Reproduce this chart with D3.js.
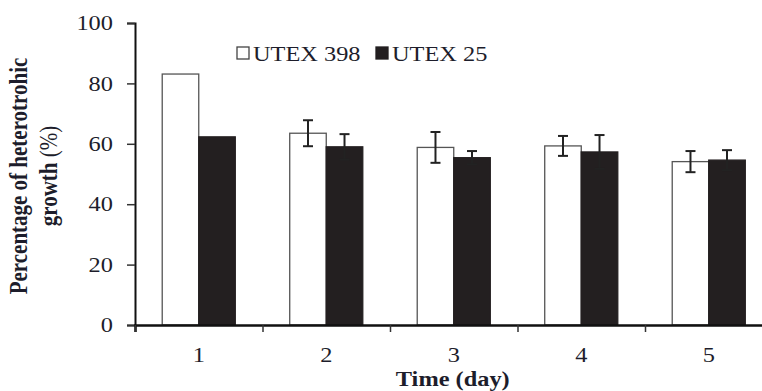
<!DOCTYPE html>
<html>
<head>
<meta charset="utf-8">
<script src="https://cdn.jsdelivr.net/npm/d3@7"></script>
<style>
  body { margin: 0; background: #fff; }
  text { font-family: "Liberation Serif", "Times New Roman", serif; fill: #1d1d2b; }
</style>
</head>
<body>
<div class="canva"></div>
<script>
// data
const days = ['1', '2', '3', '4', '5'];
const series = ['UTEX 398', 'UTEX 25'];
const utex398 = [83.1, 63.5, 58.8, 59.3, 54.1];
const utex398Err = [0, 4.3, 5.1, 3.3, 3.5];
const utex25 = [62.3, 59.0, 55.4, 57.3, 54.6];
const utex25Err = [0, 4.2, 2.2, 5.6, 3.3];
const yTicks = [0, 20, 40, 60, 80, 100];

const width = 762, height = 391;
const stretch = 1.16; // the picture's text is a bit wider than tall
const fontSize = 21;

const svg = d3.select('.canva').append('svg')
    .attr('width', width)
    .attr('height', height);

const plot = {left: 135, right: 772.5, top: 23, bottom: 325};

// scales
const y = d3.scaleLinear().domain([0, 100]).range([plot.bottom, plot.top]);

const x = d3.scaleBand()
    .domain(days)
    .range([plot.left, plot.right])
    .paddingInner(0.427)
    .paddingOuter(0.2135);

const x1 = d3.scaleBand()
    .domain(series)
    .range([0, x.bandwidth()]);

const xEdges = d3.scaleLinear().domain([0, days.length]).range([plot.left, plot.right]);

const rows = days.map((d, i) => ({
    day: d,
    vals: [
        {s: series[0], v: utex398[i], e: utex398Err[i], fill: '#fff'},
        {s: series[1], v: utex25[i], e: utex25Err[i], fill: '#231f20'}
    ]
}));

// bars
const groups = svg.append('g').selectAll('g')
    .data(rows)
    .enter().append('g')
    .attr('transform', d => `translate(${x(d.day)},0)`);

groups.selectAll('rect')
    .data(d => d.vals)
    .enter().append('rect')
    .attr('x', d => x1(d.s))
    .attr('y', d => y(d.v))
    .attr('width', x1.bandwidth())
    .attr('height', d => y(0) - y(d.v))
    .attr('fill', d => d.fill)
    .attr('stroke', d => d.fill === '#fff' ? '#555' : '#231f20')
    .attr('stroke-width', 1.3);

// error bars
const errs = groups.selectAll('g.err')
    .data(d => d.vals.filter(v => v.e > 0))
    .enter().append('g')
    .attr('class', 'err')
    .attr('stroke', '#222')
    .attr('stroke-width', 2);

const cx = d => x1(d.s) + x1.bandwidth() / 2;
errs.append('line')
    .attr('x1', cx).attr('x2', cx)
    .attr('y1', d => y(d.v - d.e)).attr('y2', d => y(d.v + d.e));
errs.append('line')
    .attr('x1', d => cx(d) - 5).attr('x2', d => cx(d) + 5)
    .attr('y1', d => y(d.v + d.e)).attr('y2', d => y(d.v + d.e));
errs.append('line')
    .attr('x1', d => cx(d) - 5).attr('x2', d => cx(d) + 5)
    .attr('y1', d => y(d.v - d.e)).attr('y2', d => y(d.v - d.e));

// y axis
const yAxis = svg.append('g')
    .attr('transform', `translate(${plot.left},0)`)
    .call(d3.axisLeft(y).tickValues(yTicks).tickSize(8).tickPadding(0));
yAxis.select('.domain').attr('stroke', '#111').attr('stroke-width', 2);
yAxis.selectAll('.tick line').attr('stroke', '#333').attr('stroke-width', 1.5);
yAxis.selectAll('.tick text')
    .attr('x', -19)
    .attr('font-size', fontSize)
    .attr('font-family', 'Liberation Serif')
    .attr('fill', '#1d1d2b')
    .attr('transform', `scale(${stretch},1)`);

// x axis: edge ticks
const xTicks = svg.append('g')
    .attr('transform', `translate(0,${plot.bottom})`)
    .call(d3.axisBottom(xEdges).tickValues(d3.range(days.length + 1)).tickFormat('').tickSize(7));
xTicks.select('.domain').attr('stroke', '#111').attr('stroke-width', 2.5);
xTicks.selectAll('.tick line').attr('stroke', '#333').attr('stroke-width', 1.5);

// x axis: day labels
const xLabels = svg.append('g')
    .attr('transform', `translate(0,${plot.bottom})`)
    .call(d3.axisBottom(x).tickSize(0));
xLabels.select('.domain').remove();
xLabels.selectAll('.tick text')
    .attr('y', 37)
    .attr('dy', 0)
    .attr('font-size', fontSize)
    .attr('font-family', 'Liberation Serif')
    .attr('fill', '#1d1d2b')
    .attr('transform', `scale(${stretch},1)`);

// axis titles
svg.append('text')
    .attr('transform', `translate(${xEdges(days.length / 2) - 1},385.5) scale(${stretch},1)`)
    .attr('text-anchor', 'middle')
    .attr('font-size', fontSize)
    .attr('font-weight', 'bold')
    .text('Time (day)');

const yTitle = svg.append('g')
    .attr('transform', `translate(0,176) scale(${stretch},1) rotate(-90)`);
yTitle.append('text')
    .attr('y', 23)
    .attr('text-anchor', 'middle')
    .attr('font-size', fontSize)
    .attr('font-weight', 'bold')
    .text('Percentage of heterotrohic');
const t2 = yTitle.append('text')
    .attr('y', 49)
    .attr('text-anchor', 'middle')
    .attr('font-size', fontSize);
t2.append('tspan').attr('font-weight', 'bold').text('growth ');
t2.append('tspan').text('(%)');

// legend
const legend = svg.append('g');
const legendX = [237, 376];
series.forEach((s, i) => {
    legend.append('rect')
        .attr('x', legendX[i]).attr('y', 47)
        .attr('width', 12).attr('height', 12)
        .attr('fill', i === 0 ? '#fff' : '#231f20')
        .attr('stroke', i === 0 ? '#444' : '#231f20')
        .attr('stroke-width', 1.3);
    legend.append('text')
        .attr('transform', `translate(${legendX[i] + 16},61) scale(${stretch},1)`)
        .attr('font-size', fontSize)
        .text(s);
});
</script>
</body>
</html>
